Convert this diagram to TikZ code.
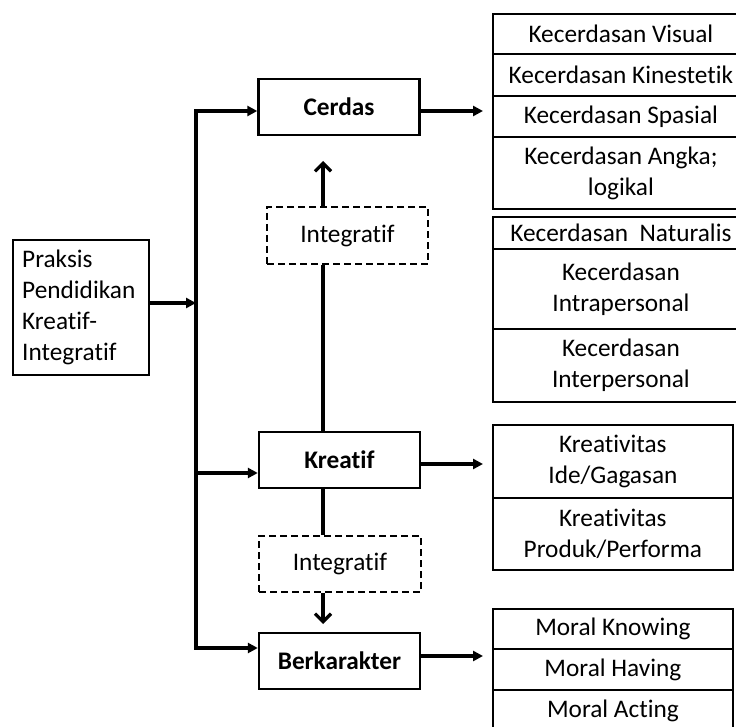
\documentclass[tikz,border=0pt]{standalone}
\usepackage{fontspec}
\setmainfont{Carlito}[Ligatures={CommonOff,ContextualOff}]
\usetikzlibrary{arrows.meta}
\begin{document}
\begin{tikzpicture}[x=1pt,y=-1pt,
  every node/.style={font=\fontsize{25.3}{31}\selectfont, inner sep=0pt},
  midbox/.style={draw, line width=2.4pt, minimum width=161pt, minimum height=56pt, anchor=center, font=\fontsize{25.3}{31}\selectfont\bfseries},
  intbox/.style={draw, line width=2.8pt, dash pattern=on 7pt off 4pt, minimum width=161pt, minimum height=57pt, anchor=center},
  cell/.style={draw, line width=1.8pt, anchor=north west, align=center},
  conn/.style={line width=3.2pt},
  arr/.style={conn, -{Triangle[length=10pt,width=10pt]}},
  oarr/.style={conn, -{Straight Barb[length=8pt,width=16pt,line width=3.2pt]}}
]
\useasboundingbox (0,0) rectangle (736,727);
\fill[white] (0,0) rectangle (736,727);

% left box
\node[draw, line width=1.8pt, minimum width=136pt, minimum height=135pt, anchor=north west] (praksis) at (12,239) {};
\node[anchor=west, align=left] (praksistxt) at (22,307) {Praksis\\Pendidikan\\Kreatif-\\Integratif};

% middle boxes
\node[midbox] (cerdas) at (339,107) {Cerdas};
\node[midbox] (kreatif) at (339.5,460) {Kreatif};
\node[midbox] (berk) at (339.5,661) {Berkarakter};
\node[intbox] (int1) at (347.5,235.5) {Integratif};
\node[intbox, minimum width=162pt, minimum height=56pt] (int2) at (340,564) {Integratif};

% trunk coordinates
\coordinate (tTop) at (196,111);
\coordinate (tMid) at (196,303);
\coordinate (tK) at (196,473);
\coordinate (tBot) at (196,648);
\coordinate (cR) at (483,111);
\coordinate (kR) at (483,464);
\coordinate (bR) at (483,656);
\coordinate (vx) at (323,0);
\coordinate (up) at (323,161);
\coordinate (dn) at (323,624);

\draw[conn, line cap=rect] (tTop) -- (tBot);
\draw[arr] (praksis.east |- tMid) -- (tMid);
\draw[arr] (tTop) -- (cerdas.west |- tTop);
\draw[arr] (tK) -- (kreatif.west |- tK);
\draw[arr] (tBot) -- (berk.west |- tBot);
\draw[arr] (cerdas.east |- cR) -- (cR);
\draw[arr] (kreatif.east |- kR) -- (kR);
\draw[arr] (berk.east |- bR) -- (bR);
\draw[oarr] (int1.north -| vx) -- (up);
\draw[conn] (int1.south -| vx) -- (kreatif.north -| vx);
\draw[conn] (kreatif.south -| vx) -- (int2.north -| vx);
\draw[oarr] (int2.south -| vx) -- (dn);

% right column group 1
\node[cell, minimum width=256pt, minimum height=40pt] (v1) at (492,13) {Kecerdasan Visual};
\node[cell, minimum width=256pt, minimum height=42pt] (v2) at (492,53) {Kecerdasan Kinestetik};
\node[cell, minimum width=256pt, minimum height=41pt] (v3) at (492,95) {Kecerdasan Spasial};
\node[cell, minimum width=256pt, minimum height=72pt] (v4) at (492,136) {Kecerdasan Angka;\\logikal};
% group 2
\node[cell, minimum width=256pt, minimum height=32pt] (n1) at (492,216) {Kecerdasan\ \ Naturalis};
\node[cell, minimum width=256pt, minimum height=80pt] (n2) at (492,248) {Kecerdasan\\Intrapersonal};
\node[cell, minimum width=256pt, minimum height=73pt] (n3) at (492,328) {Kecerdasan\\Interpersonal};
% group 3
\node[cell, minimum width=240pt, minimum height=73pt] (k1) at (492,424) {Kreativitas\\Ide/Gagasan};
\node[cell, minimum width=240pt, minimum height=72pt] (k2) at (492,497) {Kreativitas\\Produk/Performa};
% group 4
\node[cell, minimum width=240pt, minimum height=40pt] (m1) at (492,608) {Moral Knowing};
\node[cell, minimum width=240pt, minimum height=41pt] (m2) at (492,648) {Moral Having};
\node[cell, minimum width=240pt, minimum height=41pt] (m3) at (492,689) {Moral Acting};
\end{tikzpicture}
\end{document}
